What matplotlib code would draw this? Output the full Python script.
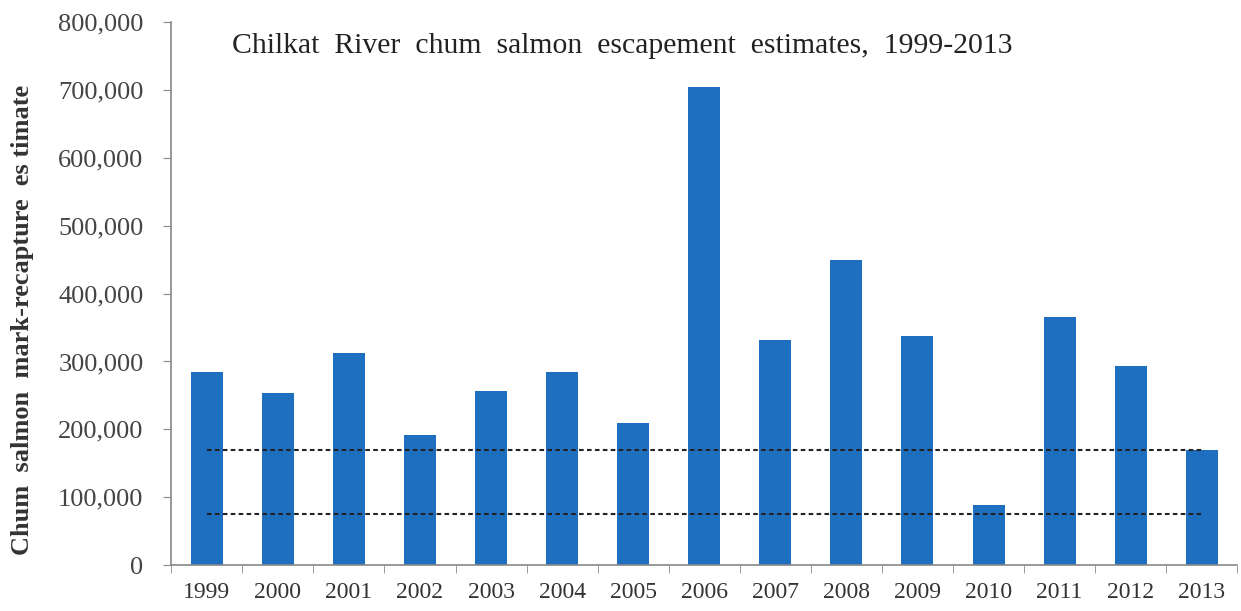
import matplotlib.pyplot as plt
from matplotlib.ticker import FuncFormatter

years = ['1999', '2000', '2001', '2002', '2003', '2004', '2005', '2006',
         '2007', '2008', '2009', '2010', '2011', '2012', '2013']
estimates = [285000, 253000, 312000, 191000, 257000, 284000, 209000, 704000,
             332000, 450000, 337000, 89000, 365000, 293000, 170000]
goal_lower = 75000
goal_upper = 170000

plt.rcParams['font.family'] = ['Liberation Serif', 'DejaVu Serif']

fig = plt.figure(figsize=(12.41, 6.11), dpi=100)
ax = fig.add_axes([0.138, 0.075, 0.859, 0.889])

x = list(range(len(years)))
ax.bar(x, estimates, width=0.45, color='#1f6fc1', zorder=2)
ax.plot([0, len(years) - 1], [goal_upper, goal_upper], color='#222222',
        linestyle=(0, (2.2, 1.6)), linewidth=1.5, zorder=3)
ax.plot([0, len(years) - 1], [goal_lower, goal_lower], color='#222222',
        linestyle=(0, (2.2, 1.6)), linewidth=1.5, zorder=3)

ax.set_xlim(-0.5, len(years) - 0.5)
ax.set_ylim(0, 800000)
ax.set_yticks(range(0, 800001, 100000))
ax.yaxis.set_major_formatter(FuncFormatter(lambda v, p: f'{int(v):,}'))
ax.set_xticks(x)
ax.set_xticklabels(years)
ax.set_xticks([i - 0.5 for i in range(len(years) + 1)], minor=True)
ax.tick_params(axis='x', which='major', length=0, pad=12, labelsize=17,
               labelcolor='#333333')
ax.tick_params(axis='x', which='minor', length=6, color='#888888', direction='out')
ax.tick_params(axis='y', length=6, color='#888888', pad=14, labelsize=19,
               labelcolor='#444444')

for side in ['top', 'right']:
    ax.spines[side].set_visible(False)
for side in ['left', 'bottom']:
    ax.spines[side].set_color('#888888')
    ax.spines[side].set_linewidth(1.2)

# y label sits a little below the axis centre in the original
fig.text(0.018, 0.476, 'Chum  salmon  mark-recapture  es timate', fontsize=19,
         fontweight='bold', color='#333333', rotation=90, ha='center', va='center')
ax.text(0.35, 765000, 'Chilkat  River  chum  salmon  escapement  estimates,  1999-2013',
        fontsize=21.4, color='#222222', va='center', ha='left')

fig.savefig('out.png', dpi=100)
